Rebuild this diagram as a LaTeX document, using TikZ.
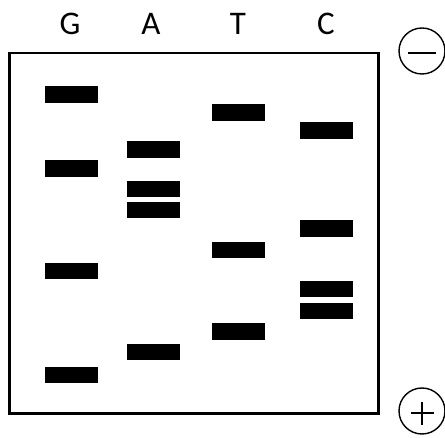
\documentclass[tikz,border=0pt]{standalone}
\usepackage{fontspec}
\setmainfont{Carlito}
\usetikzlibrary{positioning,calc}

\begin{document}
\begin{tikzpicture}[x=1pt,y=-1pt]
        \tikzset{
            band/.style={fill=black,inner sep=0pt,minimum width=53pt,minimum height=16.5pt},
            lane/.style={font=\fontsize{33}{33}\selectfont,inner sep=0pt},
            pole/.style={draw,circle,line width=1.4pt,minimum size=46pt,inner sep=0pt}
        }
        \useasboundingbox (0,0) rectangle (445,438);
        \draw[line width=2.6pt] (9.5,53) rectangle (378.5,413.5);
        % lanes
        \node[lane] (G) at (70,24) {G};
        \node[lane] (A) at (151,24) {A};
        \node[lane] (T) at (238,24) {T};
        \node[lane] (C) at (326,24) {C};
        % bands
        \node[band] (g1) at (71.5,94.5) {};
        \node[band] (g2) at (71.5,168.5) {};
        \node[band] (g3) at (71.5,271) {};
        \node[band] (g4) at (71.5,375) {};
        \node[band] (a1) at (153.5,149.5) {};
        \node[band] (a2) at (153.5,189) {};
        \node[band] (a3) at (153.5,210) {};
        \node[band] (a4) at (153.5,352) {};
        \node[band] (t1) at (238,112.5) {};
        \node[band] (t2) at (238,250) {};
        \node[band] (t3) at (238,331.5) {};
        \node[band] (c1) at (326,130.5) {};
        \node[band] (c2) at (326,228.5) {};
        \node[band] (c3) at (326,289) {};
        \node[band] (c4) at (326,311) {};
        % electrodes
        \node[pole] (neg) at (422,51) {};
        \node[pole] (pos) at (422,411) {};
        \draw[line width=1.4pt] ([xshift=-14pt,yshift=-2pt]neg.center) -- ([xshift=14pt,yshift=-2pt]neg.center);
        \draw[line width=1.4pt] ([xshift=-11pt,yshift=-2pt]pos.center) -- ([xshift=12pt,yshift=-2pt]pos.center);
        \draw[line width=1.4pt] ([yshift=9pt]pos.center) -- ([yshift=-14pt]pos.center);
\end{tikzpicture}
\end{document}
